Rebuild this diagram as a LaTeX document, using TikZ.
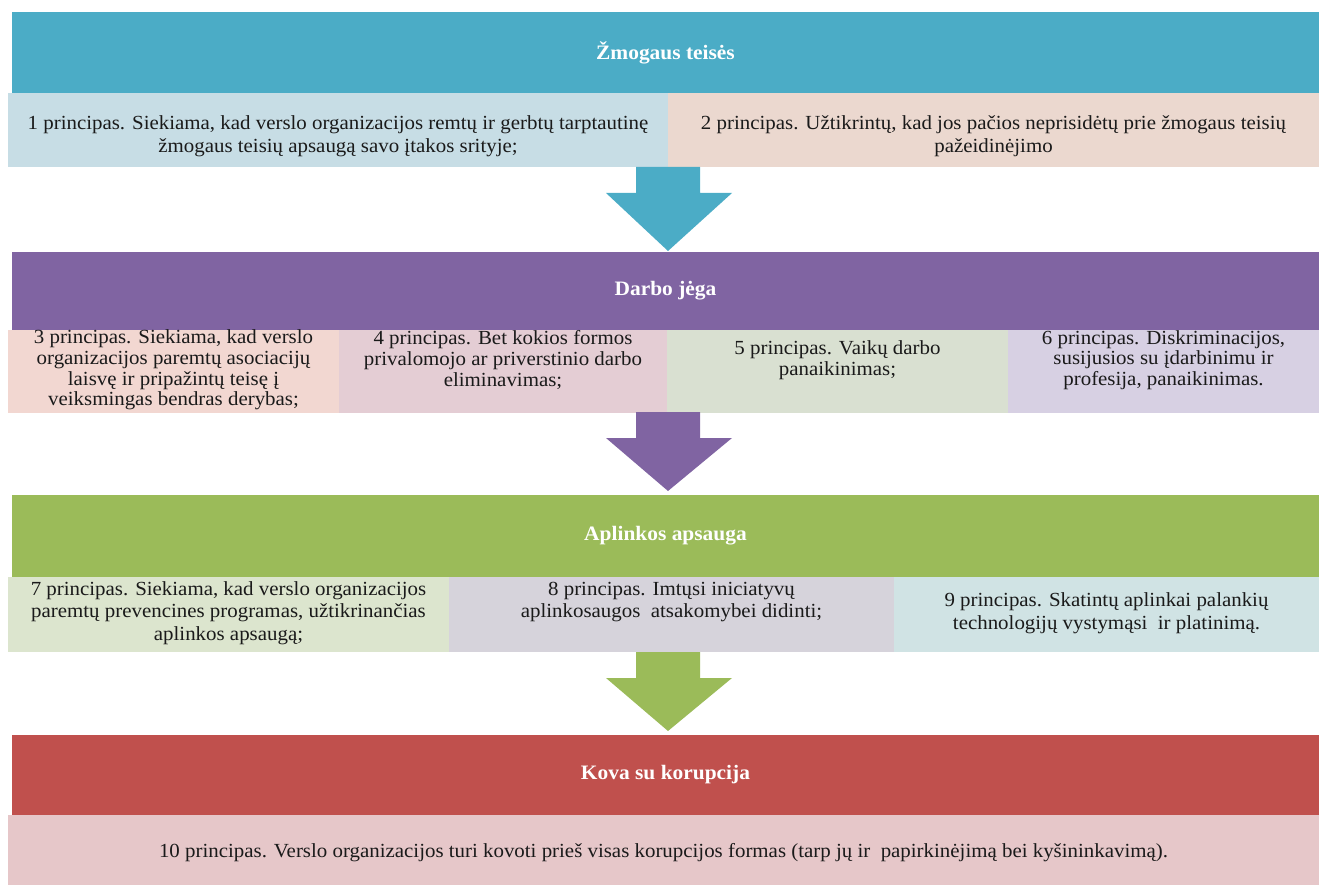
\documentclass[tikz,border=0pt]{standalone}
\usepackage{fontspec}
\setmainfont{Liberation Serif}[FakeStretch=1.045]
\usetikzlibrary{calc}
\definecolor{cTeal}{HTML}{4BACC6}
\definecolor{cPurple}{HTML}{8064A2}
\definecolor{cGreen}{HTML}{9BBB59}
\definecolor{cRed}{HTML}{C0504D}
\definecolor{cOneL}{HTML}{C7DDE5}
\definecolor{cOneR}{HTML}{EBD8CF}
\definecolor{cThree}{HTML}{F2D7D1}
\definecolor{cFour}{HTML}{E4CDD4}
\definecolor{cFive}{HTML}{D9E0D1}
\definecolor{cSix}{HTML}{D7D0E3}
\definecolor{cSeven}{HTML}{DCE5CE}
\definecolor{cEight}{HTML}{D6D3DB}
\definecolor{cNine}{HTML}{D0E3E4}
\definecolor{cTen}{HTML}{E6C7C9}
\definecolor{cText}{HTML}{1A1A1A}
\tikzset{
  hdr/.style={anchor=north west, inner sep=0pt, outer sep=0pt, text=white,
    font=\bfseries\fontsize{20.5}{24}\selectfont},
  cell/.style={anchor=north west, inner sep=0pt, outer sep=0pt},
  txt/.style={align=center, inner sep=0pt, text=cText, font=\fontsize{20}{22.5}\selectfont},
  txttwo/.style={align=center, inner sep=0pt, text=cText, font=\fontsize{20}{20.7}\selectfont},
}
\newcommand{\blkarrow}[3]{%
  \fill[#1] ($(#2)+(-32,0)$) -- ($(#2)+(32,0)$) -- ($(#2)+(32,26)$) -- ($(#2)+(64,26)$)
    -- (#3) -- ($(#2)+(-62,26)$) -- ($(#2)+(-32,26)$) -- cycle;}
\begin{document}
\begin{tikzpicture}[x=1pt,y=-1pt]
\useasboundingbox (0,0) rectangle (1319,885);
% band 1
\node[hdr, fill=cTeal, minimum width=1307pt, minimum height=81pt] (h1) at (12,12) {Žmogaus teisės};
\node[cell, fill=cOneL, minimum width=660pt, minimum height=74pt] (p1) at (8,93) {};
\node[cell, fill=cOneR, minimum width=651pt, minimum height=74pt] (p2) at (668,93) {};
\node[txt] (t1) at ($(p1.center)+(0,6)$) {1 principas. Siekiama, kad verslo organizacijos remtų ir gerbtų tarptautinę\\žmogaus teisių apsaugą savo įtakos srityje;};
\node[txt] (t2) at ($(p2.center)+(0,6)$) {2 principas. Užtikrintų, kad jos pačios neprisidėtų prie žmogaus teisių\\pažeidinėjimo};
% arrow 1
\coordinate (a1s) at (668,167);
\coordinate (a1t) at (668,251);
\blkarrow{cTeal}{a1s}{a1t}
% band 2
\node[hdr, fill=cPurple, minimum width=1307pt, minimum height=78pt] (h2) at (12,252) {Darbo jėga};
\node[cell, fill=cThree, minimum width=331pt, minimum height=83pt] (p3) at (8,330) {};
\node[cell, fill=cFour, minimum width=328pt, minimum height=83pt] (p4) at (339,330) {};
\node[cell, fill=cFive, minimum width=341pt, minimum height=83pt] (p5) at (667,330) {};
\node[cell, fill=cSix, minimum width=311pt, minimum height=83pt] (p6) at (1008,330) {};
\node[txttwo] (t3) at ($(p3.north)+(0,40)$) {3 principas. Siekiama, kad verslo\\organizacijos paremtų asociacijų\\laisvę ir pripažintų teisę į\\veiksmingas bendras derybas;};
\node[txttwo] (t4) at ($(p4.north)+(0,30)$) {4 principas. Bet kokios formos\\privalomojo ar priverstinio darbo\\eliminavimas;};
\node[txttwo] (t5) at ($(p5.north)+(0,30)$) {5 principas. Vaikų darbo\\panaikinimas;};
\node[txttwo] (t6) at ($(p6.north)+(0,30)$) {6 principas. Diskriminacijos,\\susijusios su įdarbinimu ir\\profesija, panaikinimas.};
% arrow 2
\coordinate (a2s) at (668,412);
\coordinate (a2t) at (668,491);
\blkarrow{cPurple}{a2s}{a2t}
% band 3
\node[hdr, fill=cGreen, minimum width=1307pt, minimum height=82pt] (h3) at (12,495) {Aplinkos apsauga};
\node[cell, fill=cSeven, minimum width=441pt, minimum height=75pt] (p7) at (8,577) {};
\node[cell, fill=cEight, minimum width=445pt, minimum height=75pt] (p8) at (449,577) {};
\node[cell, fill=cNine, minimum width=425pt, minimum height=75pt] (p9) at (894,577) {};
\node[txt] (t7) at ($(p7.north)+(0,36)$) {7 principas. Siekiama, kad verslo organizacijos\\paremtų prevencines programas, užtikrinančias\\aplinkos apsaugą;};
\node[txt] (t8) at ($(p8.north)+(0,25)$) {8 principas. Imtųsi iniciatyvų\\aplinkosaugos\ \ atsakomybei didinti;};
\node[txt] (t9) at ($(p9.north)+(0,36)$) {9 principas. Skatintų aplinkai palankių\\technologijų vystymąsi\ \ ir platinimą.};
% arrow 3
\coordinate (a3s) at (668,652);
\coordinate (a3t) at (668,731);
\blkarrow{cGreen}{a3s}{a3t}
% band 4
\node[hdr, fill=cRed, minimum width=1307pt, minimum height=80pt] (h4) at (12,735) {Kova su korupcija};
\node[cell, fill=cTen, minimum width=1311pt, minimum height=70pt] (p10) at (8,815) {};
\node[txt] (t10) at ($(p10.center)+(0,3)$) {10 principas. Verslo organizacijos turi kovoti prieš visas korupcijos formas (tarp jų ir\ \ papirkinėjimą bei kyšininkavimą).};
\end{tikzpicture}
\end{document}
